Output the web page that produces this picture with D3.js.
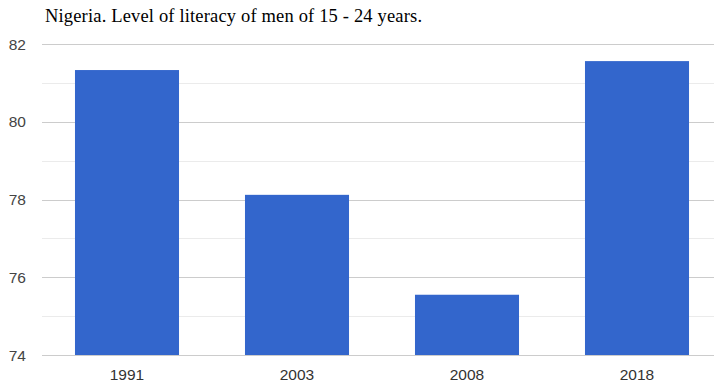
<!DOCTYPE html>
<html><head><meta charset="utf-8">
<script src="https://cdn.jsdelivr.net/npm/d3@7"></script>
<style>html,body{margin:0;padding:0;background:#fff;overflow:hidden}</style>
</head><body>
<svg id="c" width="714" height="382"></svg>
<script>
const title = "Nigeria. Level of literacy of men of 15 - 24 years.";
const years = ["1991", "2003", "2008", "2018"];
const values = [81.33, 78.12, 75.55, 81.56];
const majorTicks = [74, 76, 78, 80, 82];
const minorTicks = [75, 77, 79, 81];

(function () {
const svg = d3.select("#c");
const pLeft = 42, pRight = 722, pTop = 44, pBottom = 355;
const x = d3.scaleBand().domain(years).range([pLeft, pRight]).paddingInner(0.388).paddingOuter(0.194);
const y = d3.scaleLinear().domain([74, 82]).range([pBottom, pTop]);

svg.append("text").attr("x", 45).attr("y", 22)
  .attr("font-family", "Liberation Serif, Times New Roman, serif").attr("font-size", 18.5)
  .attr("textLength", 377).attr("lengthAdjust", "spacing")
  .attr("fill", "#000").text(title);

svg.append("g").selectAll("line").data(minorTicks).join("line")
  .attr("x1", pLeft).attr("x2", 714).attr("y1", d => Math.round(y(d)) + 0.5).attr("y2", d => Math.round(y(d)) + 0.5)
  .attr("stroke", "#ebebeb").attr("stroke-width", 1);
svg.append("g").selectAll("line").data(majorTicks).join("line")
  .attr("x1", pLeft).attr("x2", 714).attr("y1", d => Math.round(y(d)) + 0.5).attr("y2", d => Math.round(y(d)) + 0.5)
  .attr("stroke", "#cccccc").attr("stroke-width", 1);

svg.append("g").selectAll("rect").data(values).join("rect")
  .attr("x", (d, i) => x(years[i])).attr("width", x.bandwidth())
  .attr("y", d => y(d)).attr("height", d => y(74) - y(d))
  .attr("fill", "#3366cc");

svg.append("g").selectAll("text").data(majorTicks).join("text")
  .attr("x", 26).attr("y", d => y(d) + 5.5).attr("text-anchor", "end")
  .attr("font-family", "Liberation Sans, Arial, sans-serif").attr("font-size", 15.5)
  .attr("fill", "#444").text(d => d);

svg.append("g").selectAll("text").data(years).join("text")
  .attr("x", d => x(d) + x.bandwidth() / 2).attr("y", 380).attr("text-anchor", "middle")
  .attr("font-family", "Liberation Sans, Arial, sans-serif").attr("font-size", 15.5)
  .attr("fill", "#333").text(d => d);
})();
</script>
</body></html>
